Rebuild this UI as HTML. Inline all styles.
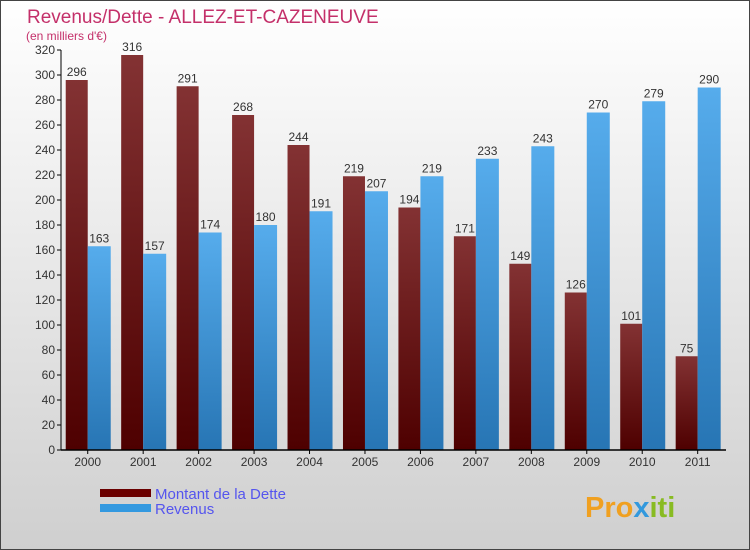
<!DOCTYPE html>
<html><head><meta charset="utf-8"><style>
body{margin:0;}
#wrap{position:relative;width:750px;height:550px;overflow:hidden;}
text{font-family:"Liberation Sans",sans-serif;}
</style></head><body>
<div id="wrap">
<svg id="svg" width="750" height="550" xmlns="http://www.w3.org/2000/svg">
<defs>
<linearGradient id="bg" x1="0" y1="0" x2="0" y2="1"><stop offset="0" stop-color="#ffffff"/><stop offset="1" stop-color="#cfcfcf"/></linearGradient>
<linearGradient id="gd" x1="0" y1="0" x2="0" y2="1"><stop offset="0" stop-color="#833233"/><stop offset="1" stop-color="#4e0000"/></linearGradient>
<linearGradient id="gr" x1="0" y1="0" x2="0" y2="1"><stop offset="0" stop-color="#56acec"/><stop offset="1" stop-color="#2775b4"/></linearGradient>
</defs>
<rect x="0.5" y="0.5" width="749" height="549" fill="url(#bg)" stroke="#444"/>
<text x="27" y="23" font-size="19" fill="#c4306a">Revenus/Dette - ALLEZ-ET-CAZENEUVE</text>
<text x="26" y="40" font-size="12" fill="#c4306a">(en milliers d'€)</text>
<g id="plot"></g>
<rect x="100" y="489" width="51" height="8" fill="#6a0000"/>
<rect x="100" y="504" width="51" height="8" fill="#3399e0"/>
<text x="155" y="499" font-size="15" fill="#5555ee">Montant de la Dette</text>
<text x="155" y="514" font-size="15" fill="#5555ee">Revenus</text>
<text x="585" y="517" font-size="29" font-weight="bold" fill="#f0a020">Pro<tspan fill="#3399dd">x</tspan><tspan fill="#88bb22">iti</tspan></text>
</svg>
</div>
<script>
const years=["2000","2001","2002","2003","2004","2005","2006","2007","2008","2009","2010","2011"];
const dette=[296,316,291,268,244,219,194,171,149,126,101,75];
const revenus=[163,157,174,180,191,207,219,233,243,270,279,290];
const yTicks=[0,20,40,60,80,100,120,140,160,180,200,220,240,260,280,300,320];
const NS="http://www.w3.org/2000/svg";
const g=document.getElementById('plot');
const x0=60,step=55.45,y0=450,yMax=320,ph=400;
const y=v=>y0-v/yMax*ph;
function mk(t,a,txt){const e=document.createElementNS(NS,t);for(const k in a)e.setAttribute(k,a[k]);if(txt!==undefined)e.textContent=txt;g.appendChild(e);return e;}
years.forEach((yr,i)=>{
 const cx=x0+step*(i+0.5);
 let r=mk('rect',{x:cx-22,y:y(dette[i]),width:22,height:y0-y(dette[i]),fill:'url(#gd)'});
 
 
 r=mk('rect',{x:cx,y:y(revenus[i]),width:23,height:y0-y(revenus[i]),fill:'url(#gr)'});
 
 
 let t=mk('text',{x:cx-11,y:y(dette[i])-4,'font-size':12,'text-anchor':'middle',fill:'#333'},dette[i]);
 
 
 t=mk('text',{x:cx+11.5,y:y(revenus[i])-4,'font-size':12,'text-anchor':'middle',fill:'#333'},revenus[i]);
 
 
 t=mk('text',{x:cx,y:466,'font-size':12,'text-anchor':'middle',fill:'#333'},yr);
 
 
 mk('line',{x1:cx,x2:cx,y1:450,y2:454,stroke:'#000'});
});
yTicks.forEach(v=>{
 mk('line',{x1:57,x2:61,y1:y(v),y2:y(v),stroke:'#000'});
 const t=mk('text',{x:55,y:y(v)+4,'font-size':12,'text-anchor':'end',fill:'#333'},v);
 
 
});
let a=mk('line',{x1:61,x2:61,y1:50,y2:450,stroke:'#000'});


a=mk('line',{x1:61,x2:726,y1:450,y2:450,stroke:'#000','stroke-width':1.5});


</script>
</body></html>
